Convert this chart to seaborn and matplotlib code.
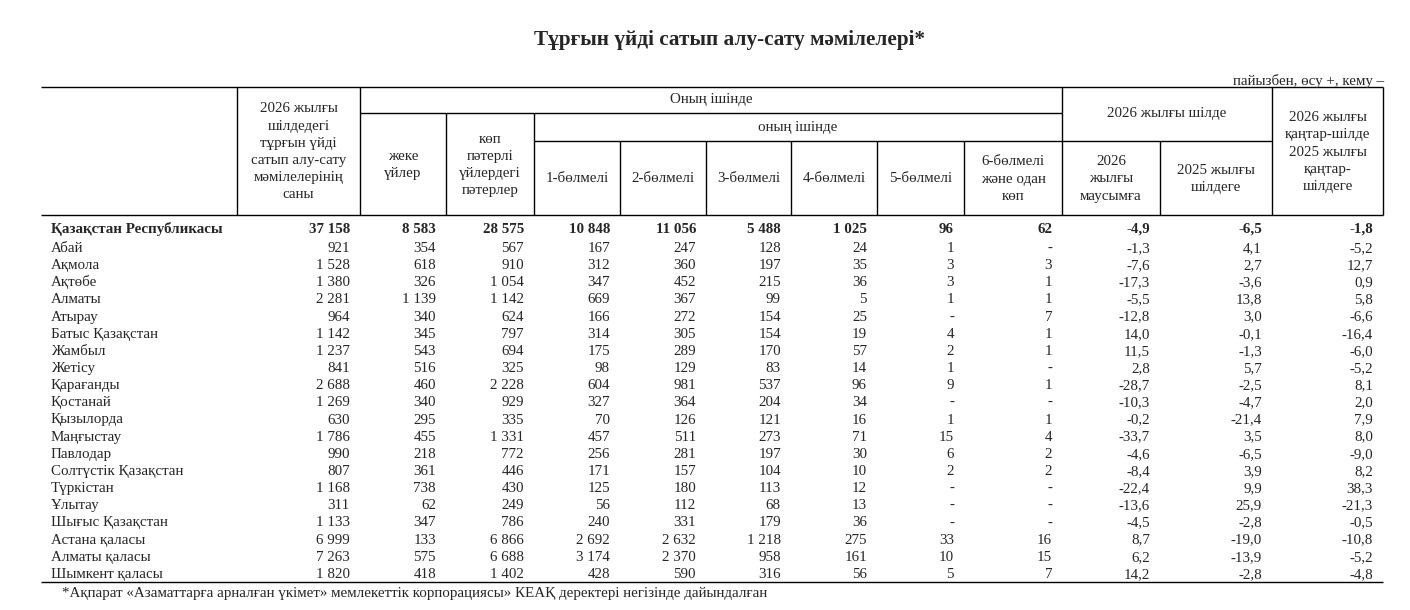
import matplotlib
matplotlib.use("Agg")
import seaborn as sns
from matplotlib import pyplot as plt

# table data
regions = ["Қазақстан Республикасы", "Абай", "Ақмола", "Ақтөбе", "Алматы", "Атырау",
           "Батыс Қазақстан", "Жамбыл", "Жетісу", "Қарағанды", "Қостанай", "Қызылорда",
           "Маңғыстау", "Павлодар", "Солтүстік Қазақстан", "Түркістан", "Ұлытау",
           "Шығыс Қазақстан", "Астана қаласы", "Алматы қаласы", "Шымкент қаласы"]
total = [37158, 921, 1528, 1380, 2281, 964, 1142, 1237, 841, 2688, 1269, 630, 1786, 990,
         807, 1168, 311, 1133, 6999, 7263, 1820]
houses = [8583, 354, 618, 326, 1139, 340, 345, 543, 516, 460, 340, 295, 455, 218, 361,
          738, 62, 347, 133, 575, 418]
flats = [28575, 567, 910, 1054, 1142, 624, 797, 694, 325, 2228, 929, 335, 1331, 772, 446,
         430, 249, 786, 6866, 6688, 1402]
room1 = [10848, 167, 312, 347, 669, 166, 314, 175, 98, 604, 327, 70, 457, 256, 171, 125,
         56, 240, 2692, 3174, 428]
room2 = [11056, 247, 360, 452, 367, 272, 305, 289, 129, 981, 364, 126, 511, 281, 157, 180,
         112, 331, 2632, 2370, 590]
room3 = [5488, 128, 197, 215, 99, 154, 154, 170, 83, 537, 204, 121, 273, 197, 104, 113,
         68, 179, 1218, 958, 316]
room4 = [1025, 24, 35, 36, 5, 25, 19, 57, 14, 96, 34, 16, 71, 30, 10, 12, 13, 36, 275, 161, 56]
room5 = [96, 1, 3, 3, 1, None, 4, 2, 1, 9, None, 1, 15, 6, 2, None, None, None, 33, 10, 5]
room6 = [62, None, 3, 1, 1, 7, 1, 1, None, 1, None, 1, 4, 2, 2, None, None, None, 16, 15, 7]
vs_june = [-4.9, -1.3, -7.6, -17.3, -5.5, -12.8, 14.0, 11.5, 2.8, -28.7, -10.3, -0.2, -33.7,
           -4.6, -8.4, -22.4, -13.6, -4.5, 8.7, 6.2, 14.2]
vs_july25 = [-6.5, 4.1, 2.7, -3.6, 13.8, 3.0, -0.1, -1.3, 5.7, -2.5, -4.7, -21.4, 3.5, -6.5,
             3.9, 9.9, 25.9, -2.8, -19.0, -13.9, -2.8]
vs_ytd = [-1.8, -5.2, 12.7, 0.9, 5.8, -6.6, -16.4, -6.0, -5.2, 8.1, 2.0, 7.9, 8.0, -9.0, 8.2,
          38.3, -21.3, -0.5, -10.8, -5.2, -4.8]

col_heads = ["2026 жылғы\nшілдедегі\nтұрғын үйді\nсатып алу-сату\nмәмілелерінің\nсаны",
             "жеке\nүйлер", "көп\nпәтерлі\nүйлердегі\nпәтерлер",
             "1-бөлмелі", "2-бөлмелі", "3-бөлмелі", "4-бөлмелі", "5-бөлмелі",
             "6-бөлмелі\nжәне одан\nкөп",
             "2026\nжылғы\nмаусымға", "2025 жылғы\nшілдеге",
             "2026 жылғы\nқаңтар-шілде\n2025 жылғы\nқаңтар-\nшілдеге"]

title = "Тұрғын үйді сатып алу-сату мәмілелері*"
unit_note = "пайызбен, өсу +, кему –"
footnote = "*Ақпарат «Азаматтарға арналған үкімет» мемлекеттік корпорациясы» КЕАҚ деректері негізінде дайындалған"

sns.set_theme(style="white")
plt.rcParams["font.family"] = ["Liberation Serif", "DejaVu Serif"]
FS = 10.8


def fmt_int(v):
    if v is None:
        return "-"
    return f"{v:,}".replace(",", " ")


def fmt_pct(v):
    return f"{v:.1f}".replace(".", ",")


columns = [(total, fmt_int), (houses, fmt_int), (flats, fmt_int), (room1, fmt_int),
           (room2, fmt_int), (room3, fmt_int), (room4, fmt_int), (room5, fmt_int),
           (room6, fmt_int), (vs_june, fmt_pct), (vs_july25, fmt_pct), (vs_ytd, fmt_pct)]

# layout (pixels)
edges = [237, 360, 446, 534, 620, 706, 791, 877, 964, 1062, 1160, 1272, 1383]
left = 41
y_top, y_r1, y_r2, y_hb = 87, 113, 141, 215
y_bottom = 582

fig = plt.figure(figsize=(14.1, 6.1), dpi=100)
ax = fig.add_axes([0, 0, 1, 1])
ax.set_xlim(0, 1410)
ax.set_ylim(610, 0)
ax.axis("off")

lw = 1.0
# horizontal rules
ax.hlines([y_top, y_hb, y_bottom], left, edges[-1], color="black", lw=lw)
ax.hlines(y_r1, edges[1], edges[9], color="black", lw=lw)
ax.hlines(y_r2, edges[3], edges[11], color="black", lw=lw)
# vertical rules
for i, x in enumerate(edges):
    if i in (0, 1, 9, 11, 12):
        y0 = y_top
    elif i in (2, 3):
        y0 = y_r1
    else:
        y0 = y_r2
    ax.vlines(x, y0, y_hb, color="black", lw=lw)

# header texts
for i, head in enumerate(col_heads):
    x0, x1 = edges[i], edges[i + 1]
    if i == 0 or i == 11:
        ya, yb = y_top, y_hb
    elif i in (1, 2):
        ya, yb = y_r1, y_hb
    else:
        ya, yb = y_r2, y_hb
    ax.text((x0 + x1) / 2, (ya + yb) / 2 + 1, head, ha="center", va="center",
            multialignment="center", fontsize=FS, linespacing=1.42)
ax.text((edges[1] + edges[9]) / 2, (y_top + y_r1) / 2, "Оның ішінде",
        ha="center", va="center", fontsize=FS)
ax.text((edges[3] + edges[9]) / 2, (y_r1 + y_r2) / 2, "оның ішінде",
        ha="center", va="center", fontsize=FS)
ax.text((edges[9] + edges[11]) / 2, (y_top + y_r2) / 2, "2026 жылғы шілде",
        ha="center", va="center", fontsize=FS)

# body rows
row_step = 17.15
for r, name in enumerate(regions):
    yc = 228 if r == 0 else 247 + (r - 1) * row_step
    base = yc + 5
    weight = "bold" if r == 0 else "normal"
    ax.text(51, base, name, ha="left", va="baseline", fontsize=FS, fontweight=weight)
    for c, (vals, f) in enumerate(columns):
        ax.text(edges[c + 1] - 10, base, f(vals[r]), ha="right", va="baseline",
                fontsize=FS, fontweight=weight)

ax.text(729, 40, title, ha="center", va="center", fontsize=15.3, fontweight="bold")
ax.text(1384, 85, unit_note, ha="right", va="baseline", fontsize=FS)
ax.text(62, 597, footnote, ha="left", va="baseline", fontsize=FS)

fig.savefig("out.png", dpi=100)
